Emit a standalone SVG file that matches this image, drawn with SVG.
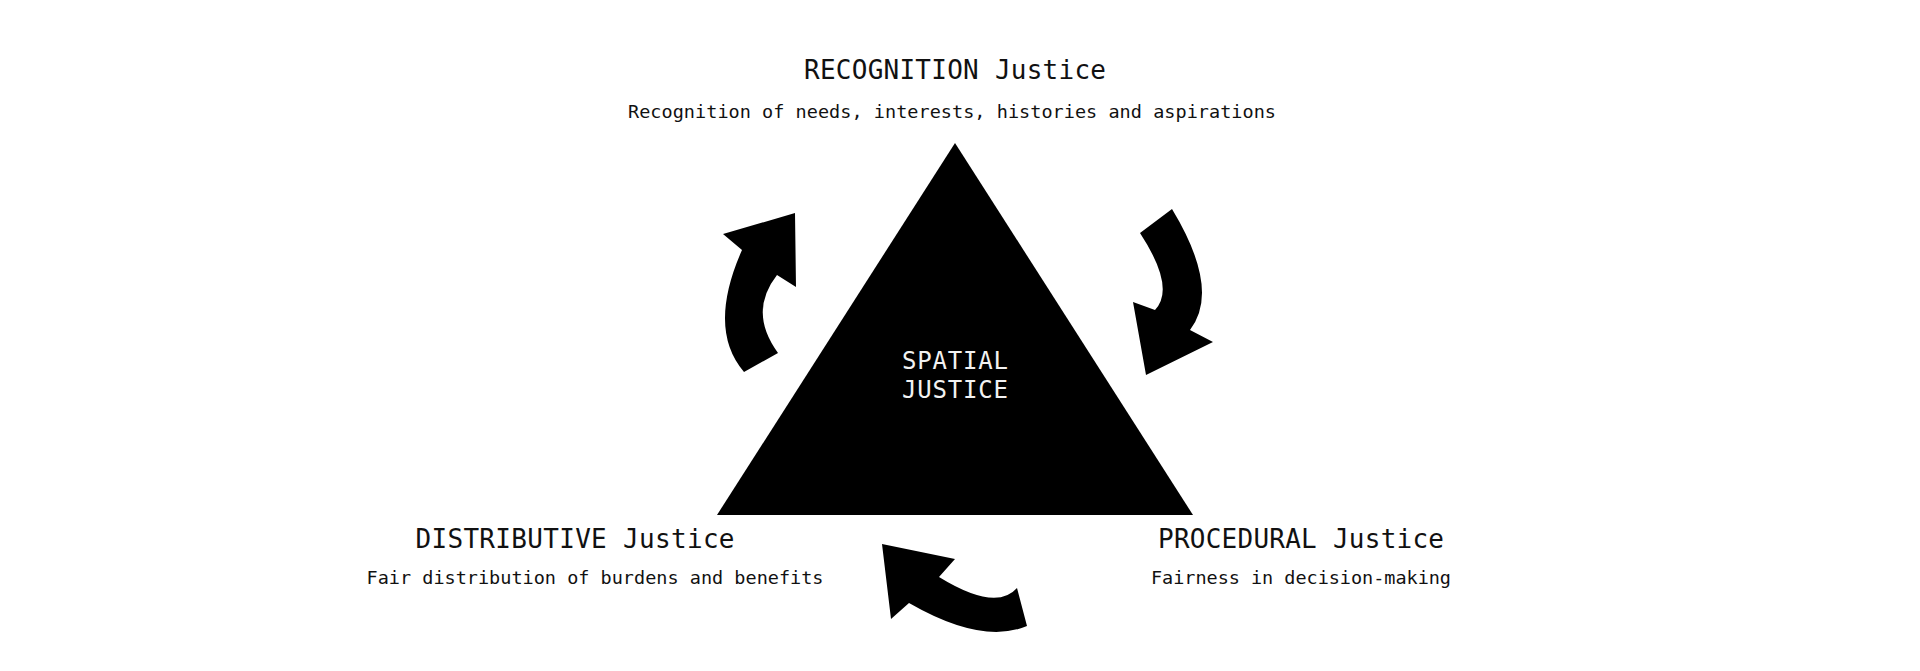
<svg xmlns="http://www.w3.org/2000/svg" width="1920" height="671" viewBox="0 0 1920 671">
  <style>
    .title { font-family: "DejaVu Sans Mono", "Liberation Mono", monospace; font-size: 26px; fill: #111; text-anchor: middle; }
    .sub { font-family: "DejaVu Sans Mono", "Liberation Mono", monospace; font-size: 18.5px; fill: #111; text-anchor: middle; }
    .center { font-family: "DejaVu Sans Mono", "Liberation Mono", monospace; font-size: 24px; fill: #f2f2f2; text-anchor: middle; }
    .arrow { fill: #000; stroke: none; }
  </style>
  <rect width="1920" height="671" fill="#fff"/>

  <g id="spatial-justice">
    <polygon points="955,143 717,515 1193,515" fill="#000"/>
    <text class="center" x="955" y="369" textLength="106" lengthAdjust="spacing">SPATIAL</text>
    <text class="center" x="955" y="398" textLength="106" lengthAdjust="spacing">JUSTICE</text>
  </g>

  <g id="recognition">
    <text class="title" x="955" y="79" textLength="302" lengthAdjust="spacing">RECOGNITION Justice</text>
    <text class="sub" x="952" y="118" textLength="648" lengthAdjust="spacing">Recognition of needs, interests, histories and aspirations</text>
  </g>

  <g id="distributive">
    <text class="title" x="575" y="548" textLength="319" lengthAdjust="spacing">DISTRIBUTIVE Justice</text>
    <text class="sub" x="595" y="584" textLength="457" lengthAdjust="spacing">Fair distribution of burdens and benefits</text>
  </g>

  <g id="procedural">
    <text class="title" x="1301" y="548" textLength="286" lengthAdjust="spacing">PROCEDURAL Justice</text>
    <text class="sub" x="1301" y="584" textLength="300" lengthAdjust="spacing">Fairness in decision-making</text>
  </g>

  <g id="connectors">
    <path class="arrow" d="M744,372 Q707,329 742,250 L723,234 L795,213 L796,287 L777,275 Q748,312 778,353 Z"/>
    <path class="arrow" d="M1140,233 L1172,209 Q1221,290 1190,330 L1213,342 L1146,375 L1133,302 L1155,310 Q1176,288 1140,233 Z"/>
    <path class="arrow" d="M1027,626 Q982,645 909,603 L891,619 L882,544 L955,559 L939,577 Q996,612 1017,588 Z"/>
  </g>
</svg>
